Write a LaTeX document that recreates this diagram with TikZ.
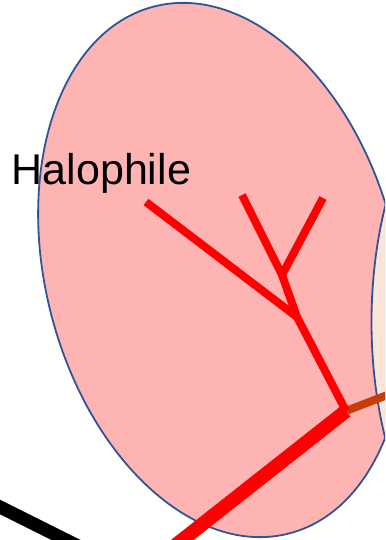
\documentclass[tikz,border=0pt]{standalone}
\usepackage{fontspec}
\setmainfont{Liberation Sans}
\usepackage{tikz}
\usetikzlibrary{positioning,calc}
\definecolor{cellPink}{HTML}{FFB4B4}
\definecolor{cellBeige}{HTML}{FBE5D6}
\definecolor{cellEdge}{HTML}{2F5597}
\definecolor{branchRed}{HTML}{FF0000}
\definecolor{branchRust}{HTML}{C83C05}

\begin{document}
\begin{tikzpicture}[
    x=1pt, y=-1pt,
    font=\fontsize{43}{50}\selectfont,
    cell/.style={draw=cellEdge, line width=1.8pt},
    branch/.style={draw=branchRed, line width=8pt},
    trunk/.style={draw=branchRed, line width=14pt},
    label/.style={inner sep=0pt, anchor=base west}
]
    \useasboundingbox (0,0) rectangle (385,540);
    \clip (0,0) rectangle (385,540);

    % halophile cell and its neighbour
    \draw[cell, fill=cellPink, rotate around={14.33:(221.5,270)}] (221.5,270) ellipse [x radius=176, y radius=272];
    \draw[cell, fill=cellBeige] (521.5,322) ellipse [x radius=150, y radius=277];

    \node[label] (name) at (11.5,184) {Halophile};

    % tree points
    \coordinate (root) at (346,411);
    \coordinate (j1) at (297,317);
    \coordinate (j2) at (282,275);
    \coordinate (tipA) at (146,202);
    \coordinate (tipB) at (242,195);
    \coordinate (tipC) at (323,198);
    \coordinate (outR) at (395,392);
    \coordinate (outT) at (167,552);
    \coordinate (blackA) at (-10,502);
    \coordinate (blackB) at (90,552);

    \draw[line width=13pt] (blackA) -- (blackB);
    \draw[trunk] (root) -- (outT);
    \draw[draw=branchRust, line width=8pt] (root) -- (outR);
    \draw[branch] (root) -- (j1);
    \draw[branch] (j1) -- (j2);
    \draw[branch] (j2) -- (tipB);
    \draw[branch] (j2) -- (tipC);
    \draw[branch] (j1) -- (tipA);
\end{tikzpicture}
\end{document}
